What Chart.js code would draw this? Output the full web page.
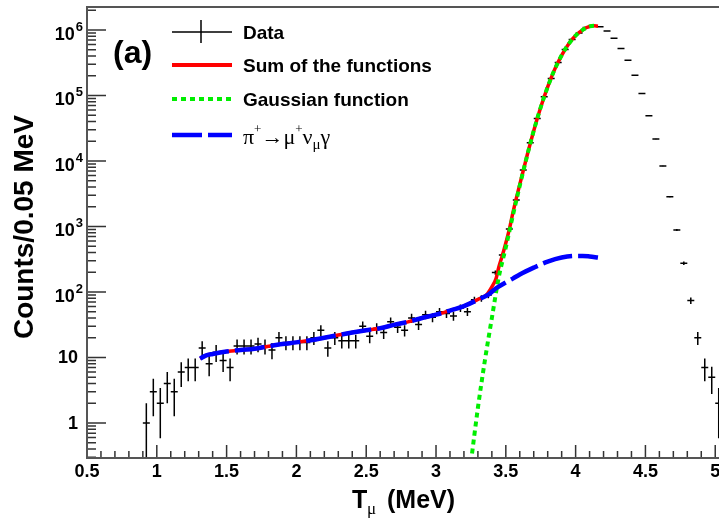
<!DOCTYPE html>
<html lang="en">
<head>
<meta charset="UTF-8">
<title>T_mu spectrum (a)</title>
<script src="https://cdn.jsdelivr.net/npm/chart.js"></script>
<style>
    html, body { margin: 0; padding: 0; background: #fff; }
    canvas { display: block; }
</style>
</head>
<body>
<canvas id="spectrum" width="719" height="520"></canvas>
<script>
// histogram: counts per 0.05 MeV bin, first bin centred at 0.925 MeV
const binWidth = 0.05;
const firstBinCenter = 0.925;
const counts = [
    1, 3, 2, 4, 3, 6, 7, 7, 14, 8,
    12, 9, 7, 15, 15, 15, 16, 15, 13, 20,
    17, 17, 17, 17, 20, 26, 14, 20, 18, 18,
    18, 30, 21, 28, 24, 35, 29, 26, 40, 32,
    45, 41, 50, 47, 43, 57, 50, 76, 80, 90,
    198, 368, 916, 2535, 7260, 18900, 44500, 95300, 181600, 318600,
    502000, 714000, 900000, 1090000, 1150000, 1120000, 966000, 746000, 520000, 345000,
    204000, 107000, 48800, 21600, 8360, 2850, 885, 275, 74, 20,
    7, 5, 2
];
const binCenters = counts.map((_, i) => firstBinCenter + i * binWidth);

// fitted curves
const sumX = [1.31, 1.35, 1.40, 1.50, 1.60, 1.70, 1.80, 1.90, 2.00, 2.10, 2.20, 2.30, 2.40, 2.50, 2.60, 2.70, 2.80, 2.90, 3.00, 3.10, 3.20, 3.30, 3.36, 3.40, 3.43, 3.45, 3.475, 3.50, 3.525, 3.55, 3.60, 3.65, 3.70, 3.75, 3.80, 3.85, 3.90, 3.95, 4.00, 4.05, 4.10, 4.13, 4.16];
const sumY = [9.6, 10.7, 11.3, 12.3, 13.0, 13.6, 14.8, 16.0, 17.0, 18.3, 20, 22, 24, 26, 28, 31.5, 35, 40, 45, 52, 61, 77, 90, 120, 160, 240, 360, 560, 900, 1600, 4400, 11600, 29000, 66000, 135000, 250000, 410000, 610000, 820000, 1000000, 1130000, 1160000, 1140000];

const gausX = [3.25, 3.30, 3.35, 3.40, 3.45, 3.50, 3.55, 3.60, 3.65, 3.70, 3.75, 3.80, 3.85, 3.90, 3.95, 4.00, 4.05, 4.10, 4.13, 4.16];
const gausY = [0.25, 1.7, 9, 40, 170, 480, 1450, 4200, 11400, 29000, 66000, 135000, 250000, 410000, 610000, 820000, 1000000, 1130000, 1160000, 1140000];

const radX = [1.31, 1.35, 1.40, 1.50, 1.60, 1.70, 1.80, 1.90, 2.00, 2.10, 2.20, 2.30, 2.40, 2.50, 2.60, 2.70, 2.80, 2.90, 3.00, 3.10, 3.20, 3.30, 3.38, 3.43, 3.50, 3.55, 3.60, 3.70, 3.80, 3.90, 4.00, 4.05, 4.10, 4.16];
const radY = [9.6, 10.7, 11.3, 12.3, 13.0, 13.6, 14.8, 16.0, 17.0, 18.3, 20, 22, 24, 26, 28, 31.5, 35, 40, 45, 52, 61, 76, 93, 114, 140, 160, 185, 235, 290, 335, 355, 355, 348, 335];

// axis labels
const xTickValues = [0.5, 1, 1.5, 2, 2.5, 3, 3.5, 4, 4.5, 5];
const xTickLabels = ['0.5', '1', '1.5', '2', '2.5', '3', '3.5', '4', '4.5', '5'];
const yTickExponents = [0, 1, 2, 3, 4, 5, 6];

// error bars as broken line segments
const vBars = [];
const hBars = [];
binCenters.forEach((xc, i) => {
    const n = counts[i];
    const e = Math.sqrt(n);
    vBars.push({ x: xc, y: Math.max(n - e, 1e-3) }, { x: xc, y: n + e }, { x: xc, y: null });
    hBars.push({ x: xc - binWidth / 2, y: n }, { x: xc + binWidth / 2, y: n }, { x: xc, y: null });
});

const toPoints = (xs, ys) => xs.map((x, i) => ({ x: x, y: ys[i] }));

const SANS = '"Liberation Sans", Arial, sans-serif';
const SERIF = '"Liberation Serif", "DejaVu Serif", serif';

// draws frame, inward ticks, labels, legend and titles
const decorations = {
    id: 'decorations',
    afterDraw(chart) {
        const { ctx, chartArea: a, scales: { x, y } } = chart;
        ctx.save();

        // ticks
        ctx.strokeStyle = '#333';
        ctx.lineWidth = 1.5;
        ctx.beginPath();
        for (let i = 5; i <= 50; i++) {
            const px = x.getPixelForValue(i / 10);
            const len = i % 5 === 0 ? 13 : 7;
            ctx.moveTo(px, a.bottom);
            ctx.lineTo(px, a.bottom - len);
        }
        for (let d = -1; d <= 6; d++) {
            for (let m = 1; m <= 9; m++) {
                const v = m * Math.pow(10, d);
                if (v < y.min || v > y.max) continue;
                const py = y.getPixelForValue(v);
                ctx.moveTo(a.left, py);
                ctx.lineTo(a.left + (m === 1 ? 19 : 9), py);
            }
        }
        ctx.stroke();

        // frame
        ctx.strokeStyle = '#555';
        ctx.lineWidth = 2;
        ctx.beginPath();
        ctx.moveTo(a.right, a.top);
        ctx.lineTo(a.left, a.top);
        ctx.lineTo(a.left, a.bottom);
        ctx.lineTo(a.right, a.bottom);
        ctx.stroke();

        // x tick labels
        ctx.fillStyle = '#000';
        ctx.font = 'bold 18px ' + SANS;
        ctx.textAlign = 'center';
        ctx.textBaseline = 'alphabetic';
        xTickValues.forEach((v, i) => {
            ctx.fillText(xTickLabels[i], x.getPixelForValue(v), a.bottom + 19);
        });

        // y tick labels
        ctx.textAlign = 'right';
        yTickExponents.forEach(p => {
            const py = y.getPixelForValue(Math.pow(10, p));
            if (p < 2) {
                ctx.font = 'bold 18px ' + SANS;
                ctx.fillText(p === 0 ? '1' : '10', a.left - 9, py + 6);
            } else {
                ctx.font = 'bold 13px ' + SANS;
                ctx.fillText(String(p), a.left - 4, py + 1);
                const w = ctx.measureText(String(p)).width;
                ctx.font = 'bold 18px ' + SANS;
                ctx.fillText('10', a.left - 5 - w, py + 10);
            }
        });

        // axis titles
        ctx.textAlign = 'left';
        ctx.font = 'bold 25px ' + SANS;
        ctx.fillText('T', 352, 508);
        ctx.font = '17px ' + SERIF;
        ctx.fillText('\u03bc', 367, 514);
        ctx.font = 'bold 25px ' + SANS;
        ctx.fillText('(MeV)', 387, 508);

        ctx.save();
        ctx.translate(33, 115);
        ctx.rotate(-Math.PI / 2);
        ctx.textAlign = 'right';
        ctx.font = 'bold 28px ' + SANS;
        ctx.fillText('Counts/0.05 MeV', 0, 0);
        ctx.restore();

        // panel tag
        ctx.font = 'bold 32px ' + SANS;
        ctx.fillText('(a)', 113, 63);

        // legend
        const lx0 = 172, lx1 = 232, tx = 243;
        ctx.strokeStyle = '#000';
        ctx.lineWidth = 1.5;
        ctx.setLineDash([]);
        ctx.beginPath();
        ctx.moveTo(lx0, 32); ctx.lineTo(lx1, 32);
        ctx.moveTo(201, 20); ctx.lineTo(201, 43);
        ctx.stroke();

        ctx.lineWidth = 4;
        ctx.strokeStyle = '#ff0000';
        ctx.beginPath(); ctx.moveTo(lx0, 65); ctx.lineTo(lx1, 65); ctx.stroke();

        ctx.strokeStyle = '#00ee00';
        ctx.setLineDash([5, 4]);
        ctx.beginPath(); ctx.moveTo(lx0, 99); ctx.lineTo(lx1, 99); ctx.stroke();

        ctx.strokeStyle = '#0000ff';
        ctx.lineWidth = 4.5;
        ctx.setLineDash([30, 6]);
        ctx.beginPath(); ctx.moveTo(lx0, 135); ctx.lineTo(lx1, 135); ctx.stroke();
        ctx.setLineDash([]);

        ctx.font = 'bold 19px ' + SANS;
        ctx.fillText('Data', tx, 39);
        ctx.fillText('Sum of the functions', tx, 72);
        ctx.fillText('Gaussian function', tx, 106);

        const runs = [
            { t: '\u03c0', size: 22, dy: 0 },
            { t: '+', size: 13, dy: -11 },
            { t: '\u2192', size: 22, dy: 0 },
            { t: '\u03bc', size: 22, dy: 0 },
            { t: '+', size: 13, dy: -11 },
            { t: '\u03bd', size: 22, dy: 0 },
            { t: '\u03bc', size: 15, dy: 5 },
            { t: '\u03b3', size: 22, dy: 0 }
        ];
        let cx = tx;
        runs.forEach(r => {
            ctx.font = r.size + 'px ' + SERIF;
            ctx.fillText(r.t, cx, 144 + r.dy);
            cx += ctx.measureText(r.t).width;
        });

        ctx.restore();
    }
};

new Chart(document.getElementById('spectrum'), {
    type: 'line',
    data: {
        datasets: [
            {
                label: 'Data errors',
                data: vBars,
                borderColor: '#000',
                borderWidth: 1.5,
                spanGaps: false,
                clip: 0,
                order: 5
            },
            {
                label: 'Data',
                data: hBars,
                borderColor: '#000',
                borderWidth: 1.5,
                spanGaps: false,
                clip: 0,
                order: 4
            },
            {
                label: 'Sum of the functions',
                data: toPoints(sumX, sumY),
                borderColor: '#ff0000',
                borderWidth: 3.5,
                cubicInterpolationMode: 'monotone',
                clip: 0,
                order: 3
            },
            {
                label: 'Gaussian function',
                data: toPoints(gausX, gausY),
                borderColor: '#00ee00',
                borderWidth: 4,
                borderDash: [5, 4],
                cubicInterpolationMode: 'monotone',
                clip: 0,
                order: 2
            },
            {
                label: 'pi -> mu nu gamma',
                data: toPoints(radX, radY),
                borderColor: '#0000ff',
                borderWidth: 4.5,
                borderDash: [30, 6],
                cubicInterpolationMode: 'monotone',
                clip: 0,
                order: 1
            }
        ]
    },
    options: {
        responsive: false,
        devicePixelRatio: 1,
        animation: false,
        layout: { padding: { top: 7, right: 0, bottom: 0, left: 0 } },
        elements: { point: { radius: 0, hoverRadius: 0 } },
        plugins: {
            legend: { display: false },
            tooltip: { enabled: false }
        },
        scales: {
            x: {
                type: 'linear',
                min: 0.5,
                max: 5.027,
                bounds: 'data',
                grid: { display: false },
                border: { display: false },
                ticks: { display: false },
                afterFit: s => { s.height = 62; }
            },
            y: {
                type: 'logarithmic',
                min: 0.292,
                max: 2.24e6,
                bounds: 'data',
                grid: { display: false },
                border: { display: false },
                ticks: { display: false },
                afterFit: s => { s.width = 87; }
            }
        }
    },
    plugins: [decorations]
});
</script>
</body>
</html>
